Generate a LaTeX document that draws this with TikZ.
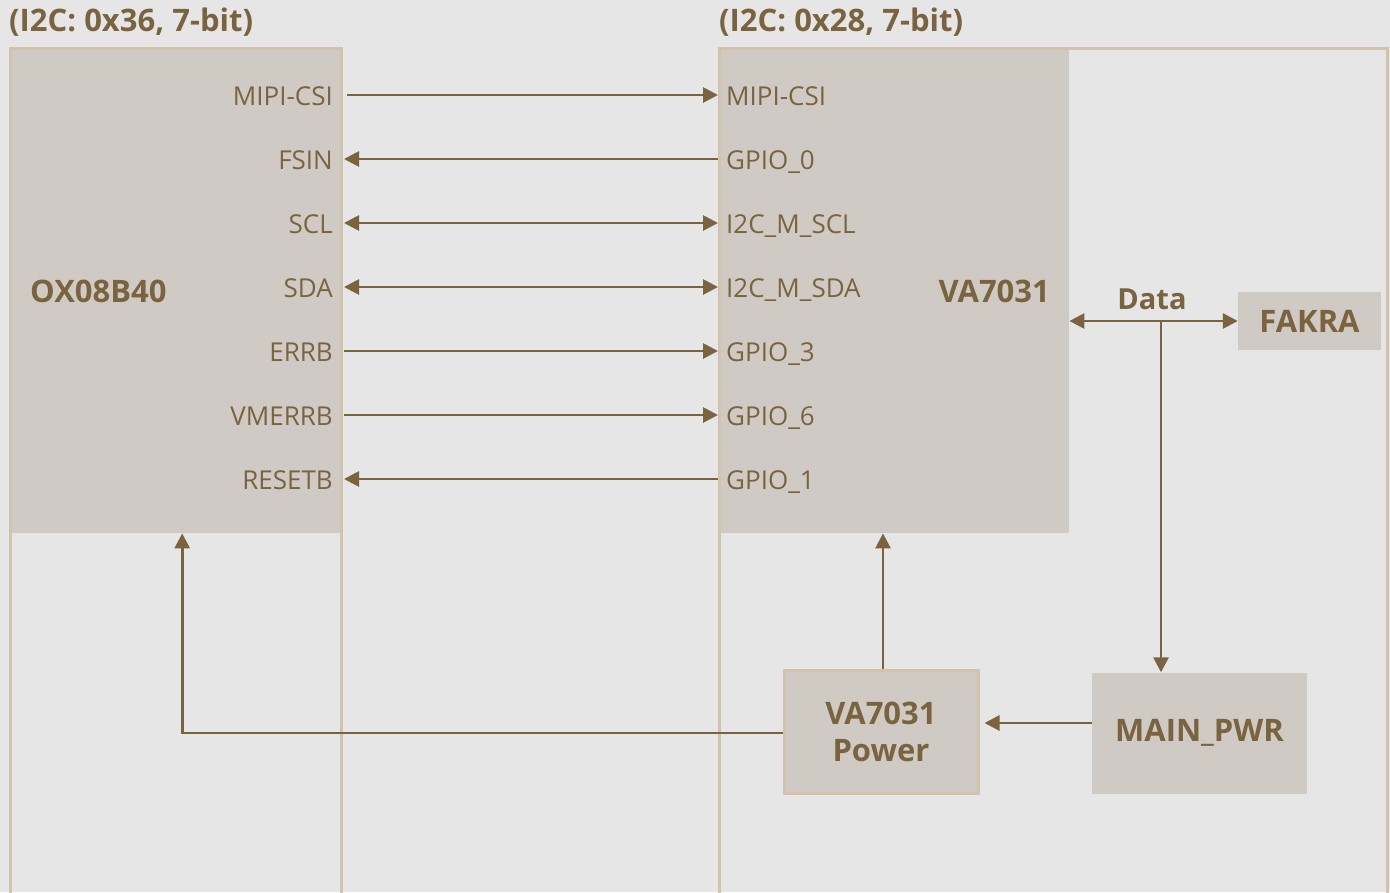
\documentclass[tikz,border=0pt]{standalone}
\usepackage{fontspec}
\setmainfont{Open Sans}
\usetikzlibrary{arrows.meta}
\definecolor{bg}{RGB}{230,230,230}
\definecolor{blk}{RGB}{207,203,196}
\definecolor{frm}{RGB}{210,196,172}
\definecolor{ink}{RGB}{122,100,64}
\begin{document}
\begin{tikzpicture}[x=1pt,y=-1pt,
  lbl/.style={font=\fontsize{26}{30}\selectfont, text=ink, inner sep=0pt},
  ttl/.style={font=\bfseries\fontsize{31}{36}\selectfont, text=ink, inner sep=0pt},
  blkbox/.style={fill=blk, draw=none, inner sep=0pt, anchor=north west},
  sbox/.style={fill=blk, inner sep=0pt, font=\bfseries\fontsize{31}{37}\selectfont, text=ink, align=center},
  frame/.style={draw=frm, line width=3pt},
  conn/.style={draw=ink, line width=2.8pt, -{Triangle[length=15pt,width=15pt]}},
  connb/.style={draw=ink, line width=2.8pt, {Triangle[length=15pt,width=15pt]}-{Triangle[length=15pt,width=15pt]}},
  connl/.style={draw=ink, line width=2.8pt, {Triangle[length=15pt,width=15pt]}-},
]
\fill[bg] (0,0) rectangle (1390,892);
\useasboundingbox (0,0) rectangle (1390,892);

% blocks
\node[blkbox, minimum width=331pt, minimum height=485pt] (ox) at (10,48) {};
\node[blkbox, minimum width=350pt, minimum height=485pt] (va) at (719,48) {};
\draw[frame] (10,900) -- (10,48) -- (341,48) -- (341,900);
\draw[frame] (719,900) -- (719,48) -- (1387,48) -- (1387,900);

% titles
\node[ttl, anchor=west] (t1) at (9,22) {(I2C: 0x36, 7-bit)};
\node[ttl, anchor=west] (t2) at (719,22) {(I2C: 0x28, 7-bit)};
\node[ttl, anchor=west] (oxn) at (30,291) {OX08B40};
\node[ttl, anchor=east] (van) at (1050,291) {VA7031};

% pin labels
\foreach \n/\y/\l/\r in {1/95/MIPI-CSI/MIPI-CSI, 2/159/FSIN/GPIO\_0, 3/223/SCL/I2C\_M\_SCL, 4/287/SDA/I2C\_M\_SDA, 5/351/ERRB/GPIO\_3, 6/415/VMERRB/GPIO\_6, 7/479/RESETB/GPIO\_1}{
  \node[lbl, anchor=base east] (l\n) at (333,\y+10) {\l};
  \node[lbl, anchor=base west] (r\n) at (726,\y+10) {\r};
}
\draw[conn] ([shift={(14pt,10pt)}]l1.base east) -- ([shift={(-8pt,10pt)}]r1.base west);
\draw[connl] ([shift={(11pt,10pt)}]l2.base east) -- ([shift={(-8pt,10pt)}]r2.base west);
\draw[connb] ([shift={(11pt,10pt)}]l3.base east) -- ([shift={(-8pt,10pt)}]r3.base west);
\draw[connb] ([shift={(11pt,10pt)}]l4.base east) -- ([shift={(-8pt,10pt)}]r4.base west);
\draw[conn] ([shift={(11pt,10pt)}]l5.base east) -- ([shift={(-8pt,10pt)}]r5.base west);
\draw[conn] ([shift={(11pt,10pt)}]l6.base east) -- ([shift={(-8pt,10pt)}]r6.base west);
\draw[connl] ([shift={(11pt,10pt)}]l7.base east) -- ([shift={(-8pt,10pt)}]r7.base west);

% right side boxes
\node[sbox, minimum width=143pt, minimum height=58pt] (fakra) at (1309.5,321) {FAKRA};
\node[sbox, minimum width=215pt, minimum height=121pt] (mpwr) at (1199.5,733) {MAIN\_PWR};
\node[sbox, draw=frm, line width=3pt, minimum width=194pt, minimum height=123pt, font=\bfseries\fontsize{31}{37}\selectfont] (pwr) at (881,731.5) {VA7031\\Power};
\node[ttl, font=\bfseries\fontsize{29}{34}\selectfont, anchor=base] (data) at (1152,309) {Data};

% connectors
\draw[connb] (fakra.west -| va.east) -- (fakra.west);
\coordinate (dj) at (1161,321);
\draw[conn] (dj) -- (dj |- mpwr.north);
\draw[conn, shorten >=5pt] ([yshift=10pt]mpwr.west) -- ([yshift=10pt]mpwr.west -| pwr.east);
\draw[conn] ([xshift=2pt]pwr.north) -- ([xshift=2pt]pwr.north |- va.south);
\draw[conn] ([yshift=-1.5pt]pwr.west) -| ([xshift=6.5pt]ox.south);
\end{tikzpicture}
\end{document}
